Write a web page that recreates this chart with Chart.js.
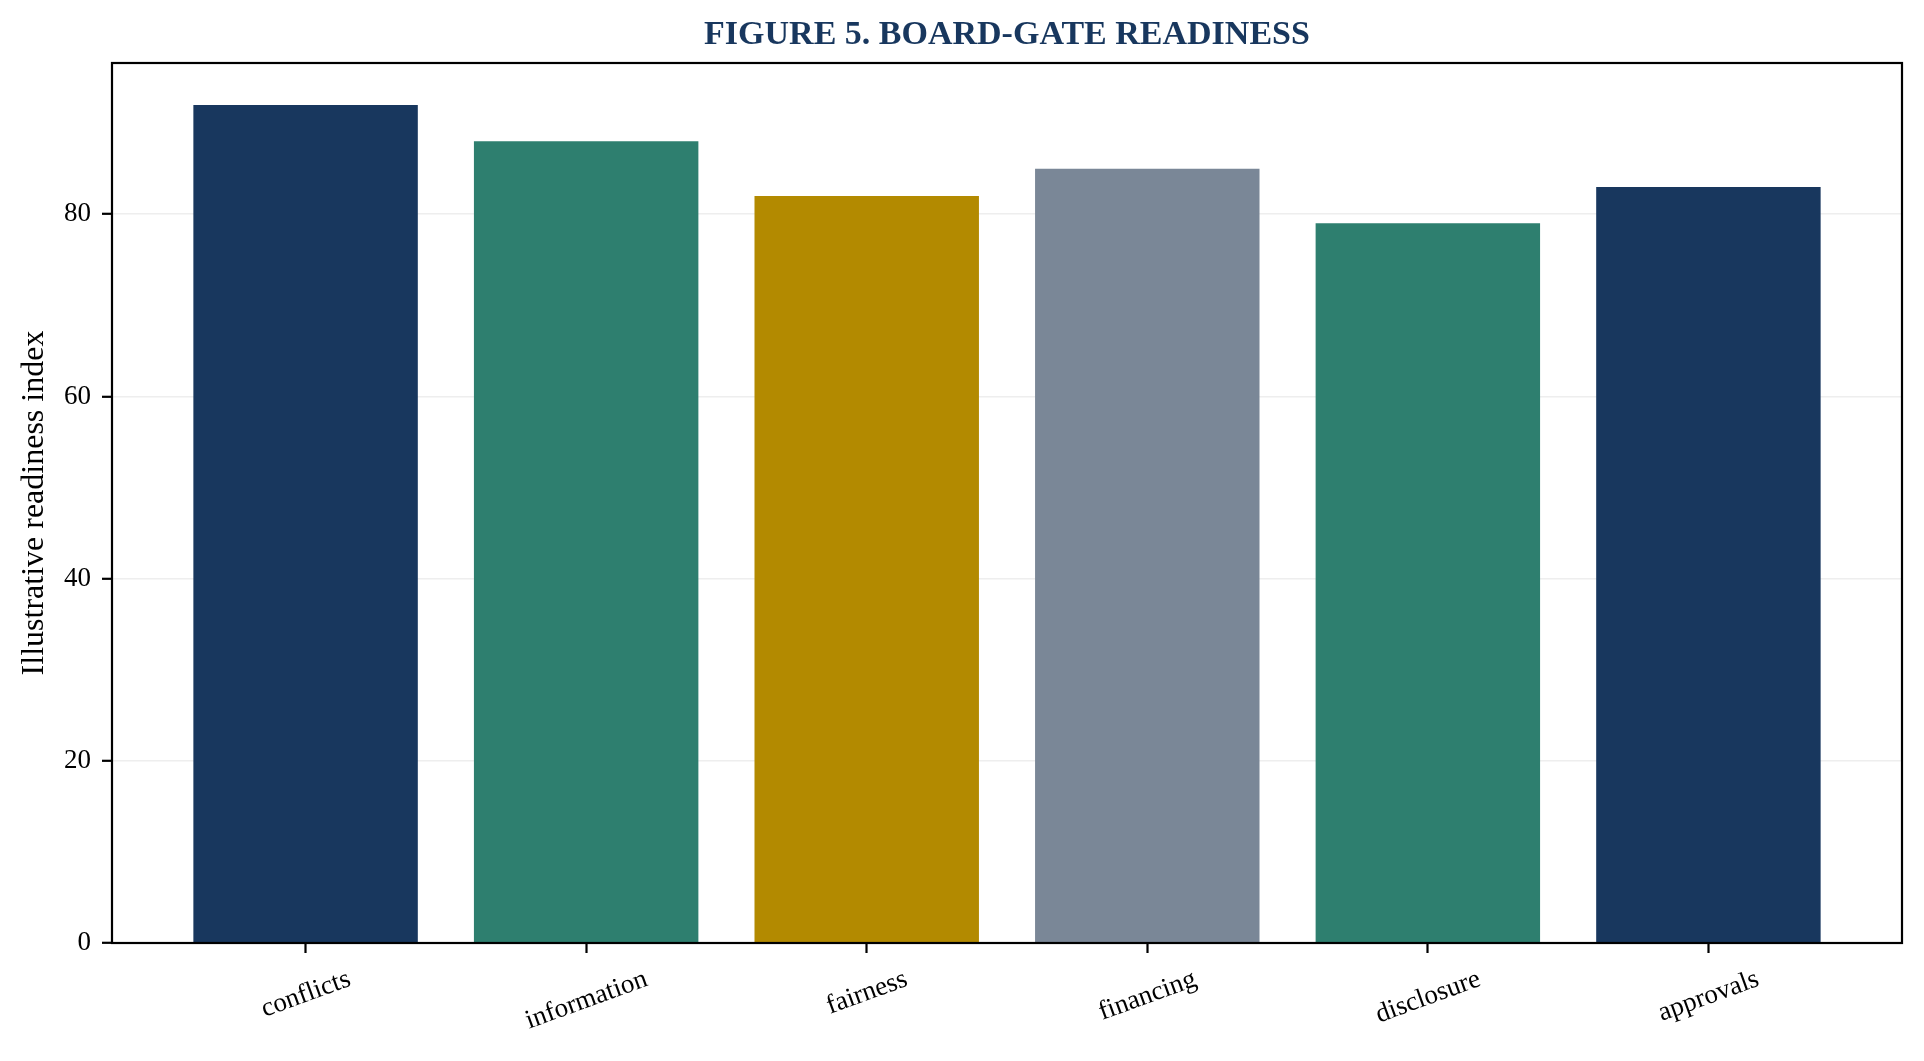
<!DOCTYPE html>
<html>
<head>
<meta charset="utf-8">
<script src="https://cdn.jsdelivr.net/npm/chart.js@4.4.1/dist/chart.umd.min.js"></script>
<style>
  html, body { margin: 0; padding: 0; background: #ffffff; }
  #wrap { width: 1924px; height: 1061px; position: relative; }
</style>
</head>
<body>
<div id="wrap"><canvas id="c"></canvas></div>
<script>
const titleText = 'FIGURE 5. BOARD-GATE READINESS';
const yAxisTitle = 'Illustrative readiness index';
const categories = ['conflicts', 'information', 'fairness', 'financing', 'disclosure', 'approvals'];
const readiness = [92, 88, 82, 85, 79, 83];
const barColors = ['#18375e', '#2e7f6f', '#b38a00', '#7a8797', '#2e7f6f', '#18375e'];
const yTicks = [0, 20, 40, 60, 80];
const yMax = 96.6;
const xMin = -0.69, xMax = 5.69;

const NAVY = '#18375e';
const FONT = "'Liberation Serif', 'Times New Roman', serif";

const framePlugin = {
  id: 'frameAndLabels',
  afterDraw(chart) {
    const ctx = chart.ctx;
    const a = chart.chartArea;
    const xs = chart.scales.x;
    ctx.save();
    // frame
    ctx.strokeStyle = '#000000';
    ctx.lineWidth = 2.2;
    ctx.strokeRect(a.left, a.top, a.right - a.left, a.bottom - a.top);
    // title
    ctx.fillStyle = NAVY;
    ctx.font = "bold 34px " + FONT;
    ctx.textAlign = 'center';
    ctx.textBaseline = 'alphabetic';
    ctx.fillText(titleText, (a.left + a.right) / 2, 44.3);
    // rotated x labels (centered)
    ctx.fillStyle = '#000000';
    ctx.font = "27px " + FONT;
    ctx.textAlign = 'center';
    ctx.textBaseline = 'middle';
    const th = 20 * Math.PI / 180;
    const H = 27 * 1.15;
    categories.forEach((lab, i) => {
      const px = xs.getPixelForValue(i);
      const L = ctx.measureText(lab).width;
      const cy = a.bottom + 20 + (L * Math.sin(th) + H * Math.cos(th)) / 2;
      ctx.save();
      ctx.translate(px, cy);
      ctx.rotate(-th);
      ctx.fillText(lab, 0, 1);
      ctx.restore();
    });
    ctx.restore();
  }
};

new Chart(document.getElementById('c'), {
  type: 'bar',
  data: {
    datasets: [{
      data: categories.map((c, i) => ({ x: i, y: readiness[i] })),
      backgroundColor: barColors,
      borderWidth: 0,
      barPercentage: 0.8,
      categoryPercentage: 1.0
    }]
  },
  options: {
    responsive: true,
    maintainAspectRatio: false,
    devicePixelRatio: 1,
    animation: false,
    layout: { padding: { top: 63, right: 22, left: 0, bottom: 0 } },
    plugins: {
      legend: { display: false },
      title: { display: false },
      tooltip: { enabled: false }
    },
    scales: {
      x: {
        type: 'linear',
        min: xMin,
        max: xMax,
        offset: false,
        afterBuildTicks(scale) {
          scale.ticks = categories.map((c, i) => ({ value: i }));
        },
        afterFit(scale) { scale.height = 118; },
        border: { display: false },
        grid: {
          offset: false,
          drawOnChartArea: false,
          drawTicks: true,
          tickLength: 10,
          tickWidth: 2.2,
          tickColor: '#000000'
        },
        ticks: { display: false }
      },
      y: {
        type: 'linear',
        min: 0,
        max: yMax,
        z: 1,
        afterBuildTicks(scale) {
          scale.ticks = yTicks.map(v => ({ value: v }));
        },
        afterFit(scale) { scale.width = 112; },
        border: { display: false },
        grid: {
          color: 'rgba(176,176,176,0.22)',
          lineWidth: 1.6,
          drawTicks: true,
          tickLength: 10,
          tickWidth: 2.2,
          tickColor: '#000000'
        },
        ticks: {
          color: '#000000',
          padding: 11,
          font: { family: FONT, size: 27 }
        },
        title: {
          display: true,
          text: yAxisTitle,
          color: '#000000',
          font: { family: FONT, size: 32 },
          padding: { top: 15, bottom: 0 }
        }
      }
    }
  },
  plugins: [framePlugin]
});
</script>
</body>
</html>
